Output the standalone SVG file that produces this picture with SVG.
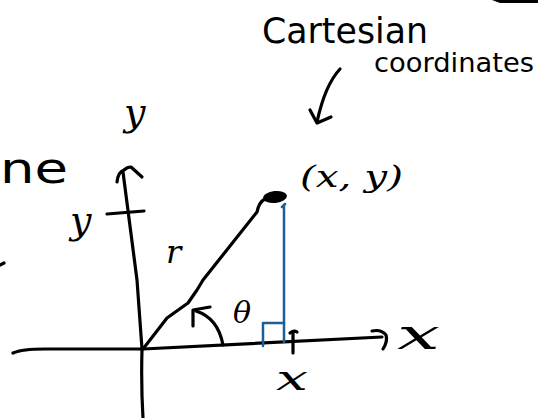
<svg xmlns="http://www.w3.org/2000/svg" width="551" height="418" viewBox="0 0 551 418">
<style>
.ink{fill:none;stroke:#000;stroke-width:3.2;stroke-linecap:round;stroke-linejoin:round}
.blue{fill:none;stroke:#1b5e98;stroke-width:2.5;stroke-linecap:round;stroke-linejoin:round}
.word{font-family:"DejaVu Sans",sans-serif;fill:#000}
.var{font-family:"DejaVu Serif",serif;font-style:italic;fill:#000}
</style>
<rect width="551" height="418" fill="#fff"/>
<path d="M492,0 L538,0 L538,3 L500,3 Z" fill="#000"/>
<g id="title">
<text class="word" x="262" y="43" font-size="35" textLength="166" lengthAdjust="spacingAndGlyphs">Cartesian</text>
<text class="word" x="374" y="72" font-size="27" textLength="160" lengthAdjust="spacingAndGlyphs">coordinates</text>
</g>
<g id="connectors">
<path class="ink" d="M340,69 Q325,85 317,122"/>
<path class="ink" d="M310,110 L317,123 L331,117"/>
</g>
<g id="axes">
<path class="ink" d="M13,353 Q22,349 45,349 L143,349 L382,337"/>
<path class="ink" d="M372,331 Q381,329 386,335 Q388,341 383,349"/>
<path class="ink" d="M143,418 Q141,385 142,349 L137,280 L123,172"/>
<path class="ink" d="M117,182 Q118,172 124,170 Q127,167 131,167 L142,177"/>
<path class="ink" d="M107,214 L144,211"/>
<path class="ink" d="M293,353 L293,332 M290,333 Q294,330 297,332"/>
<path class="ink" d="M0,265 L4,263"/>
</g>
<g id="radius">
<path class="ink" d="M143,349 L167,318 L188,303 L197,290 L203,280 L257,212 Q259,202 265,199"/>
<ellipse cx="275" cy="197" rx="12" ry="6" fill="#000" transform="rotate(-6 275 197)"/>
</g>
<g id="perpendicular">
<path class="blue" d="M284,342 L284,205 M282,207 L285,204"/>
<path class="blue" d="M263,346 L263,323 L284,323"/>
</g>
<g id="angle">
<path class="ink" d="M223,345 Q218,318 196,311"/>
<path class="ink" d="M193,326 L193,310 L210,307"/>
</g>
<g id="labels">
<text class="word" x="0" y="183" font-size="42" textLength="68" lengthAdjust="spacingAndGlyphs">ne</text>
<text class="var" x="124" y="125" font-size="38">y</text>
<text class="var" x="70" y="233" font-size="38">y</text>
<text class="var" x="166" y="263" font-size="32">r</text>
<text class="var" x="233" y="323" font-size="30">θ</text>
<text class="var" x="300" y="187" font-size="30" textLength="103" lengthAdjust="spacingAndGlyphs">(x, y)</text>
<text class="var" x="397" y="349" font-size="42" textLength="43" lengthAdjust="spacingAndGlyphs">x</text>
<text class="var" x="276" y="390" font-size="36" textLength="32" lengthAdjust="spacingAndGlyphs">x</text>
</g>
</svg>
